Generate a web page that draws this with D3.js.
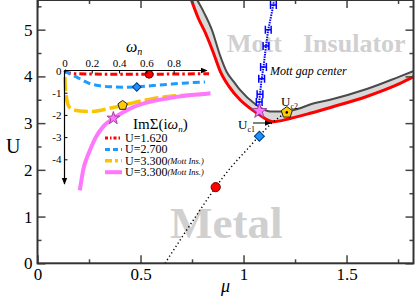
<!DOCTYPE html>
<html>
<head>
<meta charset="utf-8">
<script src="https://cdn.jsdelivr.net/npm/d3@7"></script>
<style>
  body { margin: 0; background: #fff; }
  text { font-family: "Liberation Serif", "Times New Roman", Times, serif; }
</style>
</head>
<body>
<svg id="chart" width="415" height="301"></svg>
<script>
// main phase diagram: lower boundary (red) and upper boundary (dark gray)
const redMu = [0.745, 0.78, 0.813, 0.85, 0.886, 0.93, 0.983, 1.031, 1.08, 1.145, 1.226, 1.323, 1.434, 1.598, 1.76, 1.83];
const redU = [5.66, 5.25, 4.95, 4.55, 4.12, 3.78, 3.50, 3.32, 3.17, 3.03, 3.10, 3.21, 3.35, 3.57, 3.85, 4.0];
const grayMu = [0.772, 0.81, 0.846, 0.886, 0.918, 0.95, 0.983, 1.056, 1.129, 1.192, 1.274, 1.323, 1.42, 1.598, 1.76, 1.83];
const grayU = [5.66, 5.35, 5.0, 4.45, 4.10, 3.90, 3.71, 3.41, 3.25, 3.25, 3.32, 3.40, 3.50, 3.73, 4.0, 4.12];

// mott gap center with error bars
const gapMu = [1.145, 1.12, 1.109, 1.097, 1.088, 1.080, 1.076];
const gapU = [5.53, 5.0, 4.65, 4.2, 3.95, 3.62, 3.45];
const gapErr = [0.014, 0.014, 0.014, 0.014, 0.014, 0.014, 0.014];

// dotted path through the selected points
const dotMu = [0.619, 0.70, 0.78, 0.865, 0.94, 1.016, 1.077, 1.145, 1.21];
const dotU = [0, 0.55, 1.08, 1.63, 2.06, 2.43, 2.73, 3.03, 3.23];

// inset: Im Sigma(i w_n)
const w1 = [0, 0.02, 0.05, 0.1, 0.2, 0.4, 0.6, 0.8, 1.0, 1.06];
const s1 = [0, -0.08, -0.13, -0.15, -0.16, -0.17, -0.17, -0.16, -0.15, -0.15];
const w2 = [0, 0.016, 0.05, 0.09, 0.14, 0.19, 0.25, 0.33, 0.43, 0.53, 0.65, 0.75, 0.9, 1.03];
const s2 = [0, -0.08, -0.18, -0.30, -0.46, -0.6, -0.68, -0.73, -0.75, -0.74, -0.68, -0.63, -0.56, -0.52];
const w3 = [0.003, 0.006, 0.012, 0.02, 0.03, 0.05, 0.09, 0.14, 0.19, 0.26, 0.33, 0.43, 0.52, 0.63, 0.72, 0.82, 0.93, 1.04];
const s3 = [-0.3, -0.7, -1.1, -1.4, -1.6, -1.72, -1.8, -1.84, -1.85, -1.8, -1.7, -1.57, -1.43, -1.29, -1.2, -1.14, -1.1, -1.06];
const w4 = [0.112, 0.125, 0.138, 0.16, 0.187, 0.23, 0.284, 0.36, 0.43, 0.5, 0.6, 0.75, 0.9, 1.0, 1.07];
const s4 = [-5.4, -4.9, -4.45, -4.0, -3.58, -3.0, -2.53, -2.15, -1.88, -1.66, -1.45, -1.26, -1.13, -1.07, -1.03];

const legendLabels = ["U=1.620", "U=2.700", "U=3.300", "U=3.300"];
const legendNotes = ["", "", "(Mott Ins.)", "(Mott Ins.)"];
const xTicks = [0, 0.5, 1, 1.5];
const yTicks = [0, 1, 2, 3, 4, 5];
const insetXTicks = [0, 0.2, 0.4, 0.6, 0.8];
const insetYTicks = [0, -1, -2, -3, -4];

const svg = d3.select("#chart");
const x = d3.scaleLinear([0, 1.825], [37.5, 413.5]);
const y = d3.scaleLinear([0, 5.635], [263.3, 0]);

const zip = (a, b) => a.map((v, i) => [v, b[i]]);
const line = d3.line().x(d => x(d[0])).y(d => y(d[1]));
const smooth = d3.line().x(d => x(d[0])).y(d => y(d[1])).curve(d3.curveMonotoneX);

const defs = svg.append("defs");
defs.append("clipPath").attr("id", "clip")
  .append("rect").attr("x", 37.5).attr("y", 0).attr("width", 376).attr("height", 263.3);
defs.append("marker").attr("id", "arrow").attr("viewBox", "0 0 10 10")
  .attr("refX", 9).attr("refY", 5).attr("markerWidth", 7).attr("markerHeight", 7)
  .attr("markerUnits", "userSpaceOnUse").attr("orient", "auto")
  .append("path").attr("d", "M0,1L10,5L0,9Z").attr("fill", "#000");

// background region labels
svg.append("text").attr("x", 227).attr("y", 52).attr("font-size", 26).attr("font-weight", "bold")
  .attr("fill", "#d0d0d0").text("Mott");
svg.append("text").attr("x", 303).attr("y", 52).attr("font-size", 26).attr("font-weight", "bold")
  .attr("fill", "#d0d0d0").text("Insulator");
svg.append("text").attr("x", 170).attr("y", 238).attr("font-size", 45).attr("font-weight", "bold")
  .attr("fill", "#d0d0d0").text("Metal");

const plot = svg.append("g").attr("clip-path", "url(#clip)");

const redPts = zip(redMu, redU);
const grayPts = zip(grayMu, grayU);
plot.append("path").attr("d", smooth(grayPts.concat(redPts.slice().reverse())))
  .attr("fill", "#d8d8d8");
plot.append("path").attr("d", smooth(grayPts))
  .attr("fill", "none").attr("stroke", "#4a4a4a").attr("stroke-width", 2);
plot.append("path").attr("d", smooth(redPts))
  .attr("fill", "none").attr("stroke", "#ff0000").attr("stroke-width", 3);

// mott gap center
const gapPts = zip(gapMu, gapU);
plot.append("path").attr("d", line([[1.15, 5.8]].concat(gapPts, [[1.077, 3.26]])))
  .attr("fill", "none").attr("stroke", "#0000ff").attr("stroke-width", 2)
  .attr("stroke-dasharray", "1.5,1");
const eb = plot.append("g").attr("stroke", "#0000ff").attr("stroke-width", 1.5).attr("fill", "none");
gapPts.forEach((p, i) => {
  const x0 = x(p[0] - gapErr[i]), x1 = x(p[0] + gapErr[i]), yy = y(p[1]);
  eb.append("path").attr("d", `M${x0},${yy}H${x1}M${x0},${yy - 4}V${yy + 4}M${x1},${yy - 4}V${yy + 4}`);
});

// dotted line
plot.append("path").attr("d", smooth(zip(dotMu, dotU)))
  .attr("fill", "none").attr("stroke", "#000").attr("stroke-width", 1.4)
  .attr("stroke-dasharray", "1.3,2.6");

const pentagon = r => "M" + d3.range(5).map(i => {
  const a = -Math.PI / 2 + i * 2 * Math.PI / 5;
  return [r * Math.cos(a), r * Math.sin(a)];
}).join("L") + "Z";

function markers(g, sx, sy, pts, scale) {
  g.append("circle").attr("cx", sx(pts[0][0])).attr("cy", sy(pts[0][1])).attr("r", 4.6 * scale)
    .attr("fill", "#ff0000").attr("stroke", "#700").attr("stroke-width", 1);
  g.append("path").attr("transform", `translate(${sx(pts[1][0])},${sy(pts[1][1])}) rotate(45)`)
    .attr("d", d3.symbol(d3.symbolSquare, 50 * scale * scale)())
    .attr("fill", "#1e90ff").attr("stroke", "#003c80").attr("stroke-width", 1);
  g.append("path").attr("transform", `translate(${sx(pts[2][0])},${sy(pts[2][1])})`)
    .attr("d", pentagon(5.8 * scale))
    .attr("fill", "#ffcc00").attr("stroke", "#222").attr("stroke-width", 1);
  g.append("path").attr("transform", `translate(${sx(pts[3][0])},${sy(pts[3][1])})`)
    .attr("d", d3.symbol(d3.symbolStar, 70 * scale * scale)())
    .attr("fill", "#ff77ff").attr("stroke", "#a040a0").attr("stroke-width", 1);
}
markers(svg.append("g"), x, y, [[0.865, 1.63], [1.077, 2.72], [1.21, 3.23], [1.077, 3.26]], 1);
svg.append("circle").attr("cx", x(1.21)).attr("cy", y(3.23)).attr("r", 1.3).attr("fill", "#000");

// annotations
svg.append("text").attr("x", 270).attr("y", 75).attr("font-size", 12).attr("font-style", "italic")
  .text("Mott gap center");
const uc2 = svg.append("text").attr("x", 281).attr("y", 106).attr("font-size", 13);
uc2.append("tspan").text("U");
uc2.append("tspan").attr("font-size", 8).attr("dy", 3).text("c2");
const uc1 = svg.append("text").attr("x", 238).attr("y", 129).attr("font-size", 13);
uc1.append("tspan").text("U");
uc1.append("tspan").attr("font-size", 8).attr("dy", 3).text("c1");
svg.append("line").attr("x1", 253).attr("y1", 123).attr("x2", 271).attr("y2", 123)
  .attr("stroke", "#000").attr("stroke-width", 1).attr("marker-end", "url(#arrow)");

// inset
const ix = d3.scaleLinear([0, 1.03], [64.5, 205]);
const iy = d3.scaleLinear([0, -5], [70.5, 181.5]);
const iline = d3.line().x(d => ix(d[0])).y(d => iy(d[1])).curve(d3.curveMonotoneX);
const inset = svg.append("g");
const series = [
  { pts: zip(w1, s1), color: "#ff0000", dash: "7,3,2.5,3", width: 3 },
  { pts: zip(w2, s2), color: "#1e9bff", dash: "7,4", width: 3 },
  { pts: zip(w3, s3), color: "#f7c600", dash: "14,4", width: 3.5 },
  { pts: zip(w4, s4), color: "#ff77ff", dash: null, width: 4 }
];
series.forEach(s => {
  inset.append("path").attr("d", iline(s.pts)).attr("fill", "none")
    .attr("stroke", s.color).attr("stroke-width", s.width)
    .attr("stroke-dasharray", s.dash);
});
markers(inset, ix, iy, [[0.62, -0.17], [0.53, -0.74], [0.426, -1.57], [0.358, -2.15]], 0.85);

inset.append("line").attr("x1", ix(0)).attr("y1", iy(0)).attr("x2", 207).attr("y2", iy(0))
  .attr("stroke", "#000").attr("stroke-width", 1.2).attr("marker-end", "url(#arrow)");
inset.append("line").attr("x1", ix(0)).attr("y1", iy(0)).attr("x2", ix(0)).attr("y2", 184)
  .attr("stroke", "#000").attr("stroke-width", 1.2).attr("marker-end", "url(#arrow)");
const iax = inset.append("g").attr("transform", `translate(0,${iy(0)})`)
  .call(d3.axisTop(ix).tickValues(insetXTicks).tickSize(-3).tickSizeOuter(0).tickPadding(4)
    .tickFormat(d => String(d)));
const iay = inset.append("g").attr("transform", `translate(${ix(0)},0)`)
  .call(d3.axisLeft(iy).tickValues(insetYTicks).tickSize(-3).tickSizeOuter(0).tickPadding(3)
    .tickFormat(d => String(d)));
[iax, iay].forEach(a => {
  a.select(".domain").remove();
  a.selectAll("text").attr("font-size", 11).attr("fill", "#000");
});
const wl = inset.append("text").attr("x", 126).attr("y", 52).attr("font-size", 16).attr("font-style", "italic");
wl.append("tspan").text("ω");
wl.append("tspan").attr("font-size", 10).attr("dy", 3).text("n");
const sl = inset.append("text").attr("x", 133).attr("y", 129).attr("font-size", 15);
sl.append("tspan").text("ImΣ(i");
sl.append("tspan").attr("font-style", "italic").text("ω");
sl.append("tspan").attr("font-size", 9).attr("font-style", "italic").attr("dy", 3).text("n");
sl.append("tspan").attr("dy", -3).text(")");

// legend
const legendDash = ["3,2,1.5,2", "5,3", "7,3,3,3", null];
legendLabels.forEach((lab, i) => {
  const yy = 138 + i * 11.4;
  const s = series[i];
  inset.append("line").attr("x1", 105).attr("x2", 122).attr("y1", yy).attr("y2", yy)
    .attr("stroke", s.color).attr("stroke-width", s.width)
    .attr("stroke-dasharray", legendDash[i]);
  const t = inset.append("text").attr("x", 125).attr("y", yy + 4).attr("font-size", 12).text(lab);
  if (legendNotes[i]) {
    t.append("tspan").attr("font-size", 8.5).attr("font-style", "italic").attr("dy", -1).text(legendNotes[i]);
  }
});

// main axes and frame
const axG = svg.append("g");
const styleAxis = g => {
  g.select(".domain").remove();
  g.selectAll("line").attr("stroke", "#444").attr("stroke-width", 1.5);
  g.selectAll("text").attr("font-size", 17).attr("fill", "#000");
};
const minorX = [0.25, 0.75, 1.25, 1.75];
const minorY = [0.5, 1.5, 2.5, 3.5, 4.5, 5.5];
axG.append("g").attr("transform", "translate(0,263.3)")
  .call(d3.axisBottom(x).tickValues(xTicks).tickSize(-8).tickSizeOuter(0).tickPadding(5).tickFormat(d => String(d))).call(styleAxis);
axG.append("g").attr("transform", "translate(0,263.3)")
  .call(d3.axisBottom(x).tickValues(minorX).tickSize(-4).tickSizeOuter(0).tickFormat("")).call(styleAxis);
axG.append("g").attr("transform", "translate(0,0)")
  .call(d3.axisTop(x).tickValues(xTicks).tickSize(-8).tickSizeOuter(0).tickFormat("")).call(styleAxis);
axG.append("g").attr("transform", "translate(0,0)")
  .call(d3.axisTop(x).tickValues(minorX).tickSize(-4).tickSizeOuter(0).tickFormat("")).call(styleAxis);
axG.append("g").attr("transform", "translate(37.5,0)")
  .call(d3.axisLeft(y).tickValues(yTicks).tickSize(-8).tickSizeOuter(0).tickPadding(5).tickFormat(d => String(d))).call(styleAxis);
axG.append("g").attr("transform", "translate(37.5,0)")
  .call(d3.axisLeft(y).tickValues(minorY).tickSize(-4).tickSizeOuter(0).tickFormat("")).call(styleAxis);
axG.append("g").attr("transform", "translate(413.5,0)")
  .call(d3.axisRight(y).tickValues(yTicks).tickSize(-8).tickSizeOuter(0).tickFormat("")).call(styleAxis);
axG.append("g").attr("transform", "translate(413.5,0)")
  .call(d3.axisRight(y).tickValues(minorY).tickSize(-4).tickSizeOuter(0).tickFormat("")).call(styleAxis);
svg.append("rect").attr("x", 37.5).attr("y", 0).attr("width", 376).attr("height", 263.3)
  .attr("fill", "none").attr("stroke", "#333").attr("stroke-width", 2);

svg.append("text").attr("x", 6).attr("y", 153).attr("font-size", 20).text("U");
svg.append("text").attr("x", 221).attr("y", 292).attr("font-size", 18).attr("font-style", "italic").text("μ");
</script>
</body>
</html>
